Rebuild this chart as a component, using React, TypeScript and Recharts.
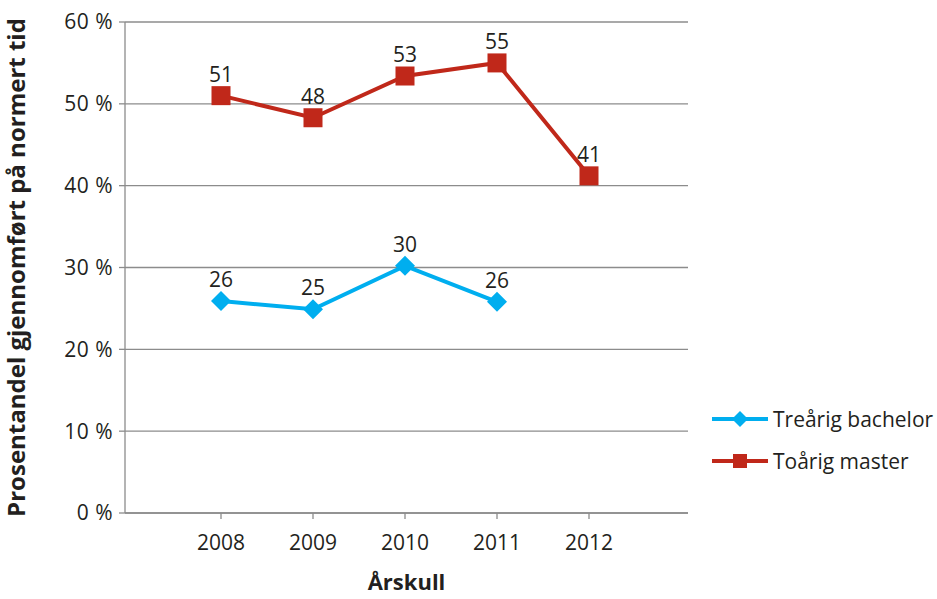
import React from 'react';
import { LineChart, Line, XAxis, YAxis, CartesianGrid, LabelList, Label } from 'recharts';

const years = ['2008', '2009', '2010', '2011', '2012'];
const bachelor: (number | null)[] = [25.9, 24.9, 30.2, 25.8, null];
const master: number[] = [51.0, 48.3, 53.4, 55.0, 41.2];
const yTicks = [0, 10, 20, 30, 40, 50, 60];

const BLUE = '#00AEEF';
const RED = '#C0281A';
const GRID = '#8C8C8C';
const TEXT = '#231F20';
const FONT = '"Open Sans", "Noto Sans", sans-serif';

const series = [
  { key: 'bachelor', name: 'Treårig bachelor', color: BLUE, marker: 'diamond' },
  { key: 'master', name: 'Toårig master', color: RED, marker: 'square' },
];

const data = years.map((y, i) => ({ year: y, bachelor: bachelor[i], master: master[i] }));

const Diamond = (props: any) => {
  const { cx, cy, fill } = props;
  if (cx == null || cy == null || props.value == null) return null;
  const r = 10;
  return <polygon points={`${cx},${cy - r} ${cx + r},${cy} ${cx},${cy + r} ${cx - r},${cy}`} fill={fill} />;
};

const Square = (props: any) => {
  const { cx, cy, fill } = props;
  if (cx == null || cy == null) return null;
  const s = 19;
  return <rect x={cx - s / 2} y={cy - s / 2} width={s} height={s} fill={fill} />;
};

const fmtLabel = (v: any) => (v == null ? '' : String(Math.round(v)));

const ChartLegend = () => (
  <div style={{ position: 'absolute', left: 710, top: 398, fontFamily: FONT, fontSize: 21, color: TEXT }}>
    {series.map((s) => (
      <div key={s.key} style={{ display: 'flex', alignItems: 'center', height: 42 }}>
        <svg width={60} height={22} style={{ marginRight: 3 }}>
          <line x1={2} y1={11} x2={58} y2={11} stroke={s.color} strokeWidth={4} />
          {s.marker === 'diamond' ? (
            <polygon points="30,3 38,11 30,19 22,11" fill={s.color} />
          ) : (
            <rect x={23} y={4} width={14} height={14} fill={s.color} />
          )}
        </svg>
        <span style={{ lineHeight: '22px' }}>{s.name}</span>
      </div>
    ))}
  </div>
);

export default function App() {
  return (
    <div style={{ position: 'absolute', left: 0, top: 0, width: 937, height: 599, background: '#fff' }}>
      <LineChart width={937} height={599} data={data} margin={{ top: 22, right: 249, bottom: 0, left: 65 }}>
        <CartesianGrid vertical={false} stroke={GRID} strokeWidth={1.3} />
        <XAxis
          dataKey="year"
          interval={0}
          padding={{ left: 96, right: 99 }}
          axisLine={{ stroke: GRID, strokeWidth: 1.3 }}
          tickLine={{ stroke: GRID, strokeWidth: 1.3 }}
          tickSize={6}
          tickMargin={16}
          height={86}
          tick={{ fill: TEXT, fontSize: 21, fontFamily: FONT }}
        >
          <Label value="Årskull" position="insideBottom" offset={9} style={{ fill: TEXT, fontSize: 22, fontWeight: 700, fontFamily: FONT }} />
        </XAxis>
        <YAxis
          domain={[0, 60]}
          ticks={yTicks}
          interval={0}
          width={60}
          tickFormatter={(v: number) => `${v} %`}
          axisLine={{ stroke: GRID, strokeWidth: 1.3 }}
          tickLine={{ stroke: GRID, strokeWidth: 1.3 }}
          tickSize={6}
          tickMargin={6}
          tick={{ fill: TEXT, fontSize: 21, fontFamily: FONT, letterSpacing: 0.5 }}
        >
          <Label
            value="Prosentandel gjennomført på normert tid"
            angle={-90}
            position="insideLeft"
            offset={0}
            dx={-49}
            style={{ textAnchor: 'middle', fill: TEXT, fontSize: 24, fontWeight: 700, fontFamily: FONT }}
          />
        </YAxis>
        {series.map((s) => (
          <Line
            key={s.key}
            type="linear"
            dataKey={s.key}
            name={s.name}
            stroke={s.color}
            fill={s.color}
            strokeWidth={4}
            dot={s.marker === 'diamond' ? <Diamond fill={s.color} /> : <Square fill={s.color} />}
            activeDot={false}
            isAnimationActive={false}
          >
            <LabelList dataKey={s.key} position="top" offset={14} formatter={fmtLabel} style={{ fill: TEXT, fontSize: 21, fontFamily: FONT }} />
          </Line>
        ))}
      </LineChart>
      <ChartLegend />
    </div>
  );
}
